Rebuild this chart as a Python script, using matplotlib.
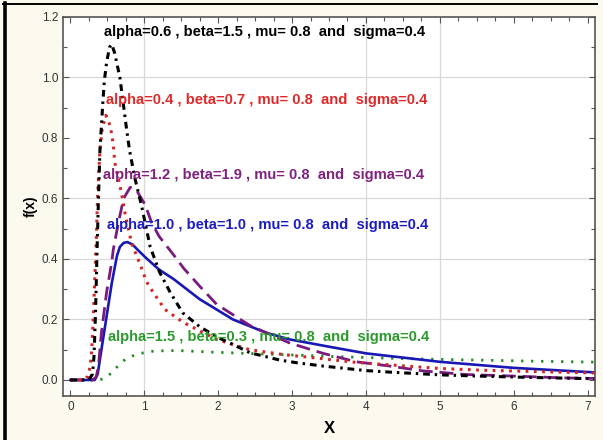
import matplotlib
matplotlib.use('Agg')
import matplotlib.pyplot as plt
from matplotlib.ticker import MultipleLocator, FormatStrFormatter
from matplotlib.lines import Line2D

plt.rcParams['font.family'] = ['Liberation Sans', 'DejaVu Sans']

# Curves (x, f(x))
black_x = [0, 0.25, 0.30, 0.32, 0.34, 0.36, 0.38, 0.40, 0.42, 0.44, 0.46, 0.49, 0.53, 0.56,
           0.60, 0.67, 0.76, 0.80, 0.87, 0.965, 1.08, 1.21, 1.35, 1.52, 1.75, 2.0, 2.16, 2.43,
           2.83, 3.06, 3.42, 4.0, 4.32, 5.0, 5.5, 6.12, 7.1]
black_y = [0, 0, 0.02, 0.08, 0.22, 0.42, 0.60, 0.76, 0.84, 0.92, 0.99, 1.05, 1.10, 1.11,
           1.08, 1.00, 0.83, 0.76, 0.67, 0.574, 0.44, 0.355, 0.29, 0.222, 0.176, 0.14, 0.122, 0.09,
           0.066, 0.057, 0.046, 0.031, 0.026, 0.017, 0.013, 0.009, 0.004]

red_x = [0, 0.18, 0.24, 0.27, 0.29, 0.31, 0.33, 0.35, 0.37, 0.40, 0.43, 0.48, 0.54, 0.58,
         0.60, 0.69, 0.74, 0.83, 0.94, 1.03, 1.12, 1.19, 1.28, 1.53, 1.98, 2.43, 2.88, 3.42,
         3.87, 4.32, 5.0, 5.6, 6.12, 7.1]
red_y = [0, 0, 0.013, 0.05, 0.10, 0.21, 0.33, 0.46, 0.62, 0.76, 0.83, 0.875, 0.84, 0.78,
         0.72, 0.62, 0.55, 0.45, 0.385, 0.325, 0.29, 0.265, 0.233, 0.19, 0.134, 0.10, 0.084, 0.07,
         0.058, 0.05, 0.038, 0.032, 0.029, 0.023]

purple_x = [0, 0.30, 0.35, 0.38, 0.42, 0.49, 0.56, 0.58, 0.65, 0.72, 0.81, 0.90, 1.01, 1.10,
            1.20, 1.44, 1.53, 1.75, 1.98, 2.43, 2.97, 3.42, 3.87, 4.32, 4.77, 5.36, 5.98,
            6.66, 7.1]
purple_y = [0, 0, 0.01, 0.046, 0.156, 0.29, 0.39, 0.43, 0.52, 0.60, 0.637, 0.625, 0.58, 0.52,
            0.475, 0.40, 0.37, 0.31, 0.25, 0.18, 0.122, 0.088, 0.06, 0.046, 0.03, 0.018, 0.013,
            0.007, 0.005]

blue_x = [0, 0.33, 0.37, 0.42, 0.49, 0.56, 0.63, 0.67, 0.72, 0.77, 0.84, 0.92, 1.03, 1.20,
          1.40, 1.75, 2.2, 2.65, 2.97, 3.5, 4.0, 5.0, 6.0, 7.1]
blue_y = [0, 0, 0.02, 0.10, 0.21, 0.32, 0.41, 0.44, 0.453, 0.456, 0.448, 0.428, 0.402, 0.365,
          0.333, 0.267, 0.20, 0.156, 0.134, 0.11, 0.088, 0.06, 0.04, 0.025]

green_x = [0, 0.38, 0.45, 0.54, 0.64, 0.74, 0.90, 1.12, 1.30, 1.48, 1.93, 2.47, 2.97, 3.5,
           4.3, 5.0, 5.67, 6.3, 7.1]
green_y = [0, 0, 0.004, 0.02, 0.045, 0.068, 0.086, 0.095, 0.097, 0.097, 0.092, 0.087, 0.083,
           0.078, 0.072, 0.068, 0.065, 0.062, 0.059]

labels = ['alpha=0.6 , beta=1.5 , mu= 0.8  and  sigma=0.4',
          'alpha=0.4 , beta=0.7 , mu= 0.8  and  sigma=0.4',
          'alpha=1.2 , beta=1.9 , mu= 0.8  and  sigma=0.4',
          'alpha=1.0 , beta=1.0 , mu= 0.8  and  sigma=0.4',
          'alpha=1.5 , beta=0.3 , mu= 0.8  and  sigma=0.4']
label_x = [0.455, 0.48, 0.446, 0.49, 0.51]
label_y = [1.149, 0.925, 0.678, 0.513, 0.143]

line_colors = ['#000000', '#d42424', '#7a1a80', '#1818b4', '#1f8a1f']
text_colors = ['#000000', '#e02828', '#80207f', '#1c1cc0', '#2a9a2a']

fig = plt.figure(figsize=(6.03, 4.40), dpi=100, facecolor='#fcf9ef')
ax = fig.add_axes([63 / 603, 1 - 396 / 440, (595 - 63) / 603, (396 - 17) / 440])
ax.set_facecolor('white')

# frame around the picture (black edges on the left and top)
fig.lines.append(Line2D([4.5 / 603, 4.5 / 603], [0, 1 - 3.5 / 440], transform=fig.transFigure,
                        color='black', lw=2.6))
fig.lines.append(Line2D([3 / 603, 597 / 603], [1 - 4 / 440, 1 - 4 / 440], transform=fig.transFigure,
                        color='black', lw=1.4))

# grid lines
for gx in [1, 4, 5]:
    ax.axvline(gx, color='#d8d8d8', lw=0.9, zorder=0)
for gy in [0.2, 0.4, 0.6, 1.0]:
    ax.axhline(gy, color='#d8d8d8', lw=0.9, zorder=0)

ax.plot(green_x, green_y, color=line_colors[4], lw=2.0, linestyle=(0, (0.8, 2.8)))
ax.plot(blue_x, blue_y, color=line_colors[3], lw=1.9, linestyle='-')
ax.plot(purple_x, purple_y, color=line_colors[2], lw=2.0, linestyle=(0, (5, 2.5)))
ax.plot(red_x, red_y, color=line_colors[1], lw=2.2, linestyle=(0, (0.9, 1.8)))
ax.plot(black_x, black_y, color=line_colors[0], lw=2.2, linestyle=(0, (2.2, 1.6, 0.8, 1.6)))

for t, tx, ty, c in zip(labels, label_x, label_y, text_colors):
    ax.text(tx, ty, t, color=c, fontsize=10.6, fontweight='bold', va='center', ha='left')

ax.set_xlim(-0.1, 7.1)
ax.set_ylim(-0.053, 1.2)
ax.xaxis.set_major_locator(MultipleLocator(1))
ax.xaxis.set_minor_locator(MultipleLocator(0.25))
ax.yaxis.set_major_locator(MultipleLocator(0.2))
ax.yaxis.set_minor_locator(MultipleLocator(0.1))
ax.yaxis.set_major_formatter(FormatStrFormatter('%.1f'))
ax.tick_params(which='both', direction='in', top=True, right=True, color='#555555',
               labelsize=8.5, labelcolor='#333333')
ax.tick_params(which='major', length=4, width=0.8)
ax.tick_params(which='minor', length=3, width=0.8)
for s in ax.spines.values():
    s.set_color('#555555')
    s.set_linewidth(1.2)

ax.set_xlabel('X', fontsize=12, fontweight='bold', labelpad=6)
ax.set_ylabel('f(x)', fontsize=10, fontweight='bold', labelpad=3)

fig.savefig('out.png', dpi=100, facecolor=fig.get_facecolor())
